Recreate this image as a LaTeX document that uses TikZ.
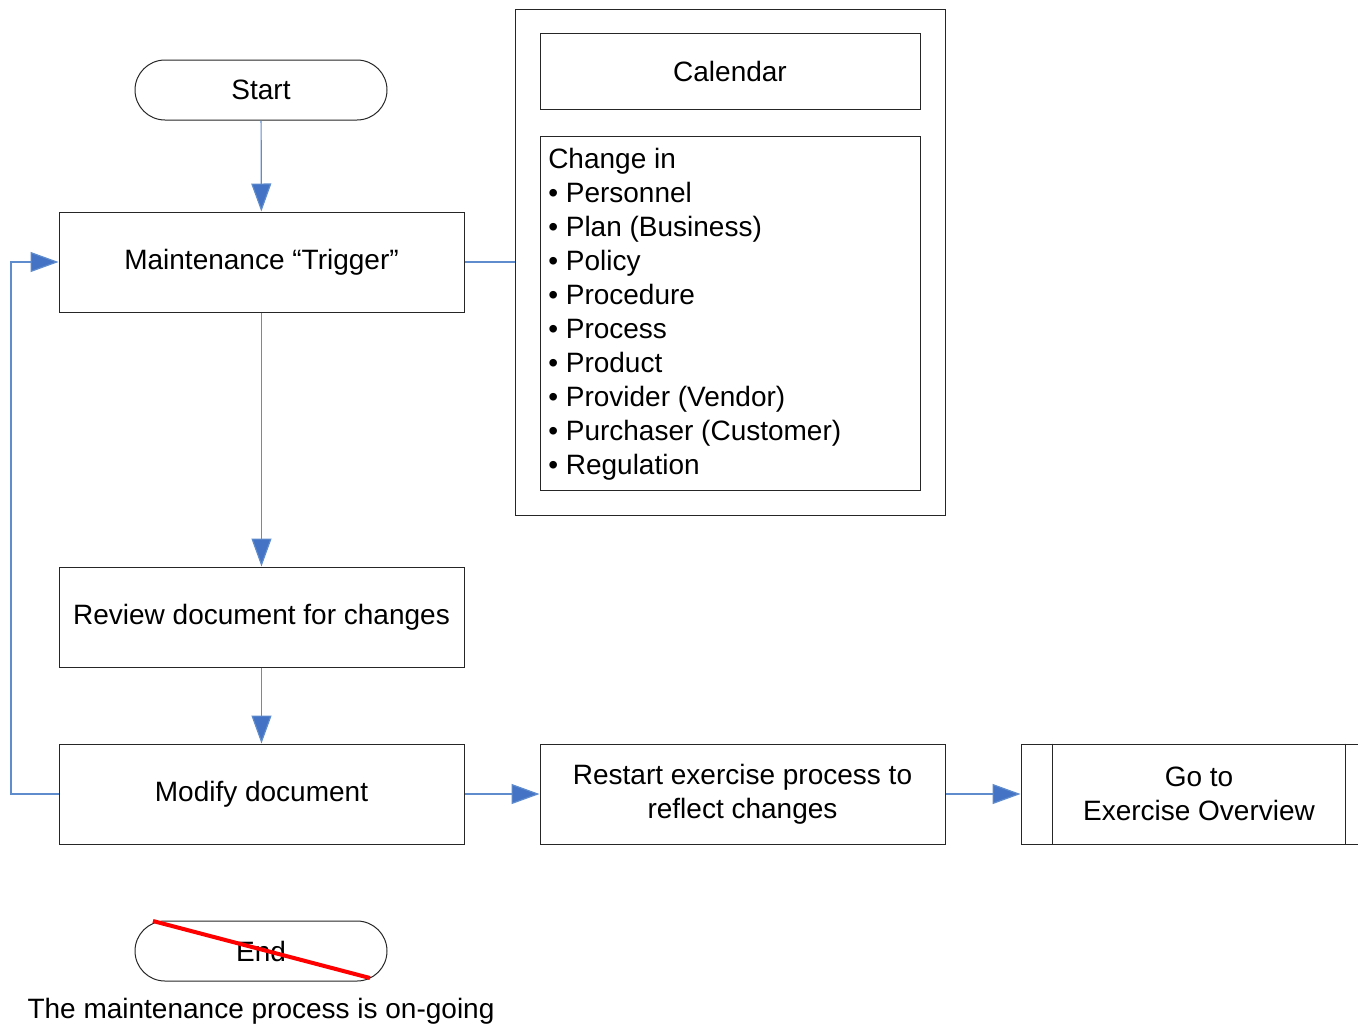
\documentclass[tikz,border=0pt]{standalone}
\usepackage{fontspec}
\setmainfont{Liberation Sans}
\usetikzlibrary{arrows.meta}
\definecolor{lineblue}{RGB}{95,140,205}
\definecolor{tipblue}{RGB}{68,114,196}
\begin{document}
\begin{tikzpicture}[x=0.75pt,y=-0.75pt,
  every node/.style={font=\fontsize{21pt}{25.5pt}\selectfont},
  box/.style={draw=black!85,line width=0.75pt,minimum width=303.75pt,minimum height=75pt,inner sep=0pt,align=center},
  term/.style={draw=black!85,line width=0.75pt,rounded corners=22.5pt,minimum width=189pt,minimum height=45pt,inner sep=0pt},
  conn/.style={draw=lineblue,line width=0.9pt},
  arr/.style={conn,-{Triangle[length=21pt,width=15pt,fill=tipblue]}}
]
\useasboundingbox (0,0) rectangle (1358,1025);
\clip (0,0) rectangle (1358,1025);
% nodes
\node[term] (start) at (261,90) {Start};
\node[box] (trig) at (261.5,262) {Maintenance “Trigger”};
\node[box] (rev) at (261.5,617) {Review document for changes};
\node[box] (mod) at (261.5,794) {Modify document};
\node[box] (rest) at (742.5,794) {Restart exercise process to\\reflect changes};
\node[box,minimum width=267pt] (goto) at (1199,794) {Go to\\Exercise Overview};
\draw[draw=black!85,line width=0.75pt] ([xshift=24pt]goto.north west) -- ([xshift=24pt]goto.south west);
\draw[draw=black!85,line width=0.75pt] ([xshift=-24pt]goto.north east) -- ([xshift=-24pt]goto.south east);
\node[term] (end) at (261,951) {End};
\node (note) at (261,1011) {The maintenance process is on-going};
% annotation group
\node[draw=black!85,line width=0.75pt,minimum width=322.5pt,minimum height=379.5pt,inner sep=0pt] (cont) at (730,262) {};
\node[box,minimum width=285pt,minimum height=57pt] (cal) at (730,71) {Calendar};
\node[draw=black!85,line width=0.75pt,minimum width=285pt,minimum height=265.5pt,inner sep=0pt] (list) at (730,313) {};
\node[anchor=north west,inner sep=0pt,align=left] (items) at (548,148) {Change in\\• Personnel\\• Plan (Business)\\• Policy\\• Procedure\\• Process\\• Product\\• Provider (Vendor)\\• Purchaser (Customer)\\• Regulation};
% connectors
\draw[arr] (start) -- (trig);
\draw[arr] (trig) -- (rev);
\draw[arr] (rev) -- (mod);
\draw[arr] (mod) -- (rest);
\draw[arr] (rest) -- (goto);
\draw[conn] (trig.east) -- (cont.west |- trig.east);
\coordinate (loop) at (11,794);
\draw[arr] (mod.west) -- (loop) |- (trig.west);
% red strike
\draw[red,line width=3pt] (153,921) -- (370,978);
\end{tikzpicture}
\end{document}
